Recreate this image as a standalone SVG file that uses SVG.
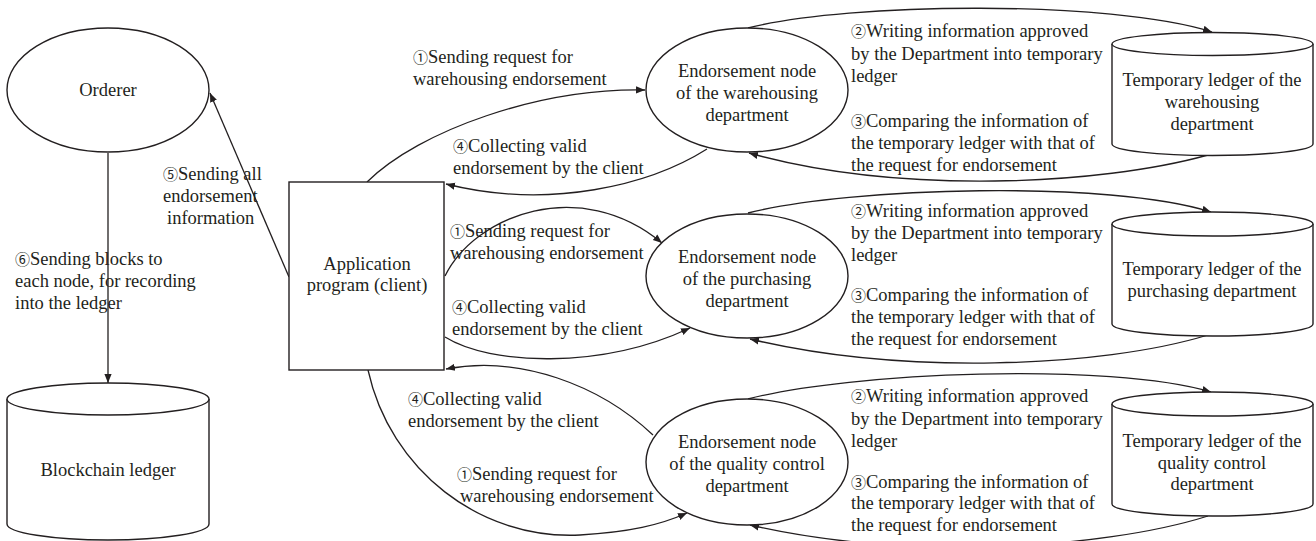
<svg xmlns="http://www.w3.org/2000/svg" width="1316" height="541" viewBox="0 0 1316 541">
  <style>
    .shape { fill: #ffffff; stroke: #231f20; stroke-width: 1.4; }
    .edge { fill: none; stroke: #231f20; stroke-width: 1.3; marker-end: url(#arrow); }
    text { font-family: "Liberation Serif", "Noto Sans CJK SC", serif; font-size: 18.5px; fill: #231f20; }
    .c { text-anchor: middle; }
    .n { font-size: 15px; }
  </style>
  <defs>
    <marker id="arrow" viewBox="0 0 10 10" refX="10" refY="5" markerWidth="9" markerHeight="9" markerUnits="userSpaceOnUse" orient="auto">
      <path d="M0,1 L10,5 L0,9 z" fill="#231f20"/>
    </marker>
  </defs>

  <!-- connectors -->
  <g id="connectors">
    <path class="edge" d="M108,153 L108,383"/>
    <path class="edge" d="M289,277 L210,93"/>
    <!-- warehousing -->
    <path class="edge" d="M367,182 C420,130 540,88 645,90"/>
    <path class="edge" d="M707,149 C650,185 550,210 446,184"/>
    <path class="edge" d="M748,28 C850,2 1110,0 1212,32"/>
    <path class="edge" d="M1208,155 C1100,185 900,195 749,153"/>
    <!-- purchasing -->
    <path class="edge" d="M445,276 C475,215 580,175 662,243"/>
    <path class="edge" d="M445,337 C490,365 600,370 690,328"/>
    <path class="edge" d="M748,213 C850,187 1110,180 1211,212"/>
    <path class="edge" d="M1208,335 C1100,368 900,375 750,339"/>
    <!-- quality control -->
    <path class="edge" d="M653,435 C600,385 520,355 446,369"/>
    <path class="edge" d="M368,370 C390,470 480,540 580,535 C630,532 660,525 687,513"/>
    <path class="edge" d="M748,399 C850,372 1110,362 1211,392"/>
    <path class="edge" d="M1208,516 C1100,550 900,560 750,525"/>
  </g>

  <!-- connector labels -->
  <g id="labels">
    <text x="163" y="180"><tspan class="n">⑤</tspan>Sending all</text>
    <text x="163" y="202">endorsement</text>
    <text x="167" y="224">information</text>

    <text x="15" y="265"><tspan class="n">⑥</tspan>Sending blocks to</text>
    <text x="15" y="287">each node, for recording</text>
    <text x="15" y="309">into the ledger</text>

    <text x="413" y="63"><tspan class="n">①</tspan>Sending request for</text>
    <text x="413" y="85">warehousing endorsement</text>
    <text x="453" y="152"><tspan class="n">④</tspan>Collecting valid</text>
    <text x="453" y="174">endorsement by the client</text>

    <text x="450" y="237"><tspan class="n">①</tspan>Sending request for</text>
    <text x="450" y="259">warehousing endorsement</text>
    <text x="452" y="313"><tspan class="n">④</tspan>Collecting valid</text>
    <text x="452" y="335">endorsement by the client</text>

    <text x="408" y="405"><tspan class="n">④</tspan>Collecting valid</text>
    <text x="408" y="427">endorsement by the client</text>
    <text x="457" y="480"><tspan class="n">①</tspan>Sending request for</text>
    <text x="460" y="502">warehousing endorsement</text>

    <text x="851" y="37"><tspan class="n">②</tspan>Writing information approved</text>
    <text x="851" y="60">by the Department into temporary</text>
    <text x="851" y="82">ledger</text>
    <text x="851" y="127"><tspan class="n">③</tspan>Comparing the information of</text>
    <text x="851" y="149">the temporary ledger with that of</text>
    <text x="851" y="171">the request for endorsement</text>

    <text x="851" y="217"><tspan class="n">②</tspan>Writing information approved</text>
    <text x="851" y="239">by the Department into temporary</text>
    <text x="851" y="261">ledger</text>
    <text x="851" y="301"><tspan class="n">③</tspan>Comparing the information of</text>
    <text x="851" y="323">the temporary ledger with that of</text>
    <text x="851" y="345">the request for endorsement</text>

    <text x="851" y="402"><tspan class="n">②</tspan>Writing information approved</text>
    <text x="851" y="425">by the Department into temporary</text>
    <text x="851" y="447">ledger</text>
    <text x="851" y="488"><tspan class="n">③</tspan>Comparing the information of</text>
    <text x="851" y="509">the temporary ledger with that of</text>
    <text x="851" y="531">the request for endorsement</text>
  </g>

  <g id="orderer">
    <ellipse class="shape" cx="108" cy="90" rx="101" ry="62"/>
    <text class="c" x="108" y="96">Orderer</text>
  </g>

  <g id="blockchain-ledger">
    <path class="shape" d="M7,399 L7,524 A101,16 0 0 0 209,524 L209,399"/>
    <ellipse class="shape" cx="108" cy="399" rx="101" ry="16"/>
    <text class="c" x="108" y="476">Blockchain ledger</text>
  </g>

  <g id="client">
    <rect class="shape" x="289" y="182" width="155" height="188"/>
    <text class="c" x="367" y="270">Application</text>
    <text class="c" x="367" y="291">program (client)</text>
  </g>

  <g id="node-warehousing">
    <ellipse class="shape" cx="747" cy="90" rx="101" ry="62"/>
    <text class="c" x="747" y="77">Endorsement node</text>
    <text class="c" x="747" y="99">of the warehousing</text>
    <text class="c" x="747" y="121">department</text>
  </g>

  <g id="node-purchasing">
    <ellipse class="shape" cx="747" cy="276" rx="101" ry="62"/>
    <text class="c" x="747" y="263">Endorsement node</text>
    <text class="c" x="747" y="285">of the purchasing</text>
    <text class="c" x="747" y="307">department</text>
  </g>

  <g id="node-quality">
    <ellipse class="shape" cx="747" cy="462" rx="101" ry="63"/>
    <text class="c" x="747" y="448">Endorsement node</text>
    <text class="c" x="747" y="470">of the quality control</text>
    <text class="c" x="747" y="492">department</text>
  </g>

  <g id="ledger-warehousing">
    <path class="shape" d="M1112,44 L1112,144 A100.5,11.5 0 0 0 1313,144 L1313,44"/>
    <ellipse class="shape" cx="1212.5" cy="44" rx="100.5" ry="11.5"/>
    <text class="c" x="1212" y="86">Temporary ledger of the</text>
    <text class="c" x="1212" y="108">warehousing</text>
    <text class="c" x="1212" y="130">department</text>
  </g>

  <g id="ledger-purchasing">
    <path class="shape" d="M1112,224 L1112,324 A100.5,12 0 0 0 1313,324 L1313,224"/>
    <ellipse class="shape" cx="1212.5" cy="224" rx="100.5" ry="12"/>
    <text class="c" x="1212" y="275">Temporary ledger of the</text>
    <text class="c" x="1212" y="297">purchasing department</text>
  </g>

  <g id="ledger-quality">
    <path class="shape" d="M1112,404 L1112,504 A100.5,12 0 0 0 1313,504 L1313,404"/>
    <ellipse class="shape" cx="1212.5" cy="404" rx="100.5" ry="12"/>
    <text class="c" x="1212" y="447">Temporary ledger of the</text>
    <text class="c" x="1212" y="469">quality control</text>
    <text class="c" x="1212" y="490">department</text>
  </g>
</svg>
